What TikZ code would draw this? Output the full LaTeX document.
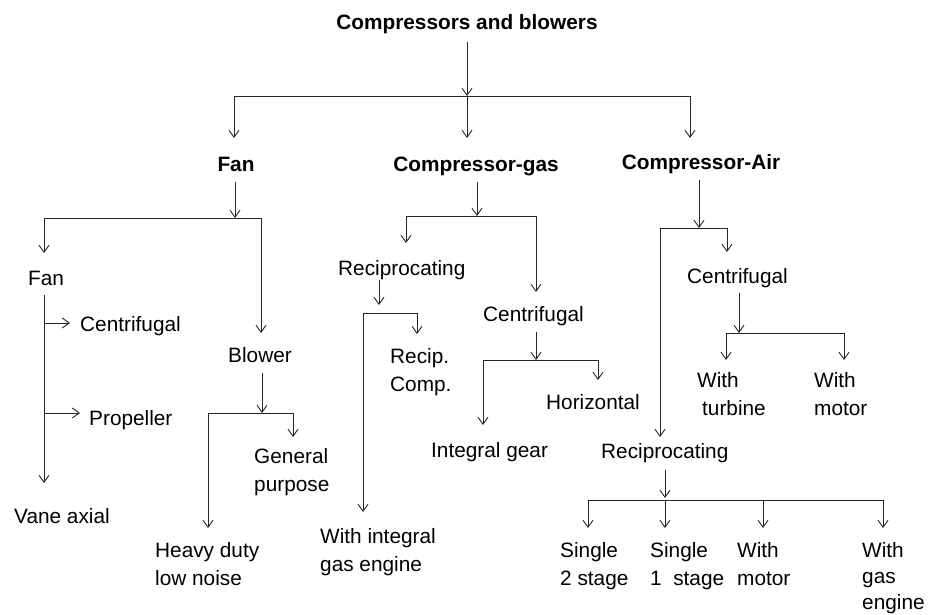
\documentclass[tikz,border=0pt]{standalone}
\usepackage{fontspec}
\setmainfont{Liberation Sans}
\usetikzlibrary{arrows.meta, positioning, calc}

\tikzset{
  lbl/.style={inner sep=0pt, anchor=base west, align=left},
  head/.style={inner sep=0pt, anchor=base, font=\bfseries},
  arr/.style={-{Straight Barb[length=7pt,width=10pt]}, draw=black!85, line width=0.9pt},
  branch/.style={draw=black!85, line width=0.9pt},
}

\begin{document}
\begin{tikzpicture}[x=1pt, y=-1pt]
  \useasboundingbox (0,0) rectangle (935,614);
  \fontsize{20.8}{28}\selectfont

  % headings
  \node[head] (root) at (467,29) {Compressors and blowers};
  \node[head] (fanB) at (236,171) {Fan};
  \node[head] (gasB) at (476,171) {Compressor-gas};
  \node[head] (airB) at (701,169) {Compressor-Air};

  % fans and blowers (multi-line nodes sit on their last baseline)
  \node[lbl] (fan) at (28,285) {Fan};
  \node[lbl] (fanCen) at (80,331) {Centrifugal};
  \node[lbl] (fanProp) at (89,425) {Propeller};
  \node[lbl] (fanVane) at (14,523) {Vane axial};
  \node[lbl] (blower) at (228,362) {Blower};
  \node[lbl] (blowGen) at (254,491) {General\\purpose};
  \node[lbl] (blowHeavy) at (155,585) {Heavy duty\\low noise};

  % gas compressors
  \node[lbl] (gasRec) at (338,275) {Reciprocating};
  \node[lbl] (gasRecComp) at (390,391) {Recip.\\Comp.};
  \node[lbl] (gasRecEng) at (320,571) {With integral\\gas engine};
  \node[lbl] (gasCen) at (483,321) {Centrifugal};
  \node[lbl] (gasCenHor) at (546,409) {Horizontal};
  \node[lbl] (gasCenGear) at (431,457) {Integral gear};

  % air compressors
  \node[lbl] (airCen) at (687,283) {Centrifugal};
  \node[lbl] (airCenTurb) at (697,415) {With\\\hspace*{5pt}turbine};
  \node[lbl] (airCenMot) at (814,415) {With\\motor};
  \node[lbl] (airRec) at (601,458) {Reciprocating};
  \node[lbl] (airRecTwo) at (560,585) {Single\\2 stage};
  \node[lbl] (airRecOne) at (650,585) {Single\\1\ \ stage};
  \node[lbl] (airRecMot) at (737,585) {With\\motor};
  \node[lbl, font=\fontsize{20.8}{26}\selectfont] (airRecGas) at (862,609) {With\\gas\\engine};

  % junctions
  \coordinate (rootHub) at (467,96);
  \coordinate (rootW) at (234,96);
  \coordinate (rootE) at (690,96);
  \coordinate (fanHub) at (235,218);
  \coordinate (fanW) at (44,218);
  \coordinate (fanE) at (261,218);
  \coordinate (blowHub) at (262,413);
  \coordinate (blowW) at (208,413);
  \coordinate (blowE) at (293,413);
  \coordinate (gasHub) at (477,216);
  \coordinate (gasW) at (406,216);
  \coordinate (gasE) at (536,216);
  \coordinate (gasRecHub) at (379,313);
  \coordinate (gasRecW) at (363,313);
  \coordinate (gasRecE) at (417,313);
  \coordinate (gasCenHub) at (536,360);
  \coordinate (gasCenW) at (483,360);
  \coordinate (gasCenE) at (598,360);
  \coordinate (airHub) at (699,228);
  \coordinate (airW) at (660,228);
  \coordinate (airE) at (727,228);
  \coordinate (airCenHub) at (739,333);
  \coordinate (airCenW) at (726,333);
  \coordinate (airCenE) at (844,333);
  \coordinate (airRecHub) at (665,500);
  \coordinate (airRecW) at (588,500);
  \coordinate (airRecM) at (763,500);
  \coordinate (airRecE) at (883,500);

  % top level
  \draw[arr] (root.base) ++(0,13) -- (rootHub);
  \draw[arr] (rootHub) -| ($(rootW |- fanB.base)+(0,-33)$);
  \draw[arr] (rootHub) -- ($(rootHub |- gasB.base)+(0,-33)$);
  \draw[arr] (rootHub) -| ($(rootE |- airB.base)+(0,-31)$);

  % fan
  \draw[arr] (fanHub |- fanB.base) ++(0,11) -- (fanHub);
  \draw[arr] (fanHub) -| ($(fanW |- fan.base)+(0,-32)$);
  \draw[arr] (fanHub) -| ($(fanE |- blower.base)+(0,-29)$);
  \draw[arr] (fanW |- fan.base) ++(0,10) -- ($(fanW |- fanVane.base)+(0,-40)$);
  \draw[arr] ($(fanW |- fanCen.base)+(0,-8)$) -- ($(fanCen.base west)+(-10,-8)$);
  \draw[arr] ($(fanW |- fanProp.base)+(0,-12)$) -- ($(fanProp.base west)+(-9,-12)$);
  \draw[arr] (blowHub |- blower.base) ++(0,11) -- (blowHub);
  \draw[arr] (blowHub) -| ($(blowE |- blowGen.base)+(0,-54)$);
  \draw[arr] (blowHub) -| ($(blowW |- blowHeavy.base)+(0,-57)$);

  % compressor-gas
  \draw[arr] (gasHub |- gasB.base) ++(0,11) -- (gasHub);
  \draw[arr] (gasHub) -| ($(gasW |- gasRec.base)+(0,-32)$);
  \draw[arr] (gasHub) -| ($(gasE |- gasCen.base)+(0,-29)$);
  \draw[arr] (gasRecHub |- gasRec.base) ++(0,5) -- ($(gasRecHub)+(0,-8)$);
  \draw[arr] (gasRecHub) -| ($(gasRecE |- gasRecComp.base)+(0,-57)$);
  \draw[arr] (gasRecHub) -| ($(gasRecW |- gasRecEng.base)+(0,-59)$);
  \draw[arr] (gasCenHub |- gasCen.base) ++(0,11) -- (gasCenHub);
  \draw[arr] (gasCenHub) -| ($(gasCenE |- gasCenHor.base)+(0,-29)$);
  \draw[arr] (gasCenHub) -| ($(gasCenW |- gasCenGear.base)+(0,-32)$);

  % compressor-air
  \draw[arr] (airHub |- airB.base) ++(0,11) -- (airHub);
  \draw[arr] (airHub) -| ($(airE |- airCen.base)+(0,-31)$);
  \draw[arr] (airHub) -| ($(airW |- airRec.base)+(0,-21)$);
  \draw[arr] (airCenHub |- airCen.base) ++(0,10) -- (airCenHub);
  \draw[arr] (airCenHub) -| ($(airCenW |- airCenTurb.base)+(0,-55)$);
  \draw[arr] (airCenHub) -| ($(airCenE |- airCenMot.base)+(0,-55)$);
  \draw[arr] (airRecHub |- airRec.base) ++(0,12) -- ($(airRecHub)+(0,-2)$);
  \draw[branch] (airRecW) -- (airRecE);
  \draw[arr] (airRecW) -- ($(airRecW |- airRecTwo.base)+(0,-57)$);
  \draw[arr] (airRecHub) -- ($(airRecHub |- airRecOne.base)+(0,-57)$);
  \draw[arr] (airRecM) -- ($(airRecM |- airRecMot.base)+(0,-57)$);
  \draw[arr] (airRecE) -- ($(airRecE |- airRecGas.base)+(0,-81)$);
\end{tikzpicture}
\end{document}
